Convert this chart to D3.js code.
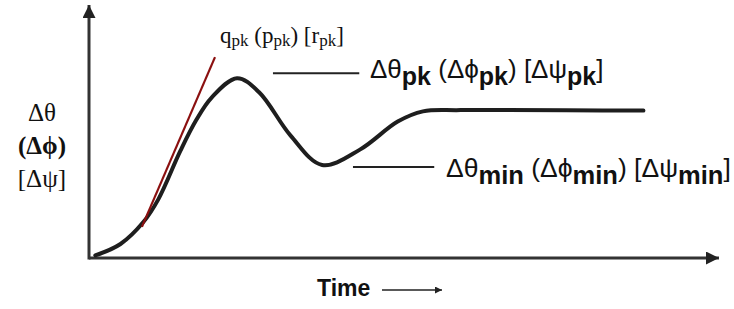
<!DOCTYPE html>
<html>
<head>
<meta charset="utf-8">
<script src="https://cdn.jsdelivr.net/npm/d3@7"></script>
<style>
  body { margin: 0; background: #fff; }
</style>
</head>
<body>
<div id="chart"></div>
<script>
const width = 734, height = 309;

// response curve (time, response)
const time = [0.1, 0.5, 0.86, 1.1, 1.45, 1.7, 1.95, 2.35, 2.7, 3.2, 3.7, 4.3, 4.9, 5.3, 5.9, 8.8];
const resp = [0.1, 0.55, 1.4, 2.3, 4.2, 5.4, 6.3, 7.05, 6.5, 4.8, 3.65, 4.25, 5.35, 5.75, 5.8, 5.78];

// tangent at the steepest rise
const tangentT = [0.84, 2.0];
const tangentV = [1.22, 7.88];

// leader lines for the peak and minimum labels
const peakT = [2.92, 4.29], peakV = 7.25;
const minT = [4.19, 5.48], minV = 3.57;

const yLabels = ["Δθ", "(Δϕ)", "[Δψ]"];

const svg = d3.select("#chart")
    .append("svg")
    .attr("width", width)
    .attr("height", height);

const x = d3.scaleLinear().domain([0, 10]).range([89, 719]);
const y = d3.scaleLinear().domain([0, 10]).range([258, 3]);

//arrow heads
const defs = svg.append("defs");
defs.append("marker")
    .attr("id", "bigArrow")
    .attr("viewBox", "0 0 10 10")
    .attr("refX", 10).attr("refY", 5)
    .attr("markerUnits", "userSpaceOnUse")
    .attr("markerWidth", 30).attr("markerHeight", 13)
    .attr("orient", "auto")
    .append("path")
    .attr("d", "M0,0 L10,5 L0,10 Z")
    .attr("fill", "#222");

defs.append("marker")
    .attr("id", "smallArrow")
    .attr("viewBox", "0 0 10 10")
    .attr("refX", 10).attr("refY", 5)
    .attr("markerUnits", "userSpaceOnUse")
    .attr("markerWidth", 16).attr("markerHeight", 7)
    .attr("orient", "auto")
    .append("path")
    .attr("d", "M0,0 L10,5 L0,10 Z")
    .attr("fill", "#222");

//axes
svg.append("line")
    .attr("x1", x(0)).attr("y1", y(0))
    .attr("x2", x(10)).attr("y2", y(0))
    .attr("stroke", "#333").attr("stroke-width", 3)
    .attr("marker-end", "url(#bigArrow)");

svg.append("line")
    .attr("x1", x(0)).attr("y1", y(0) + 1.5)
    .attr("x2", x(0)).attr("y2", y(10) + 2)
    .attr("stroke", "#333").attr("stroke-width", 3)
    .attr("marker-end", "url(#bigArrow)");

//response curve
const pts = time.map((t, i) => [t, resp[i]]);
const line = d3.line()
    .x(d => x(d[0]))
    .y(d => y(d[1]))
    .curve(d3.curveCatmullRom.alpha(0.5));

svg.append("path")
    .datum(pts)
    .attr("d", line)
    .attr("fill", "none")
    .attr("stroke", "#1e1e1e")
    .attr("stroke-width", 4)
    .attr("stroke-linecap", "round");

//tangent
svg.append("line")
    .attr("x1", x(tangentT[0])).attr("y1", y(tangentV[0]))
    .attr("x2", x(tangentT[1])).attr("y2", y(tangentV[1]))
    .attr("stroke", "#8b1010").attr("stroke-width", 2.2);

//leader lines
svg.append("line")
    .attr("x1", x(peakT[0])).attr("y1", y(peakV))
    .attr("x2", x(peakT[1])).attr("y2", y(peakV))
    .attr("stroke", "#222").attr("stroke-width", 2);

svg.append("line")
    .attr("x1", x(minT[0])).attr("y1", y(minV))
    .attr("x2", x(minT[1])).attr("y2", y(minV))
    .attr("stroke", "#222").attr("stroke-width", 2);

//y label
svg.append("g")
    .selectAll("text")
    .data(yLabels)
    .enter()
    .append("text")
    .attr("x", 42)
    .attr("y", (d, i) => 121 + i * 33)
    .attr("text-anchor", "middle")
    .attr("font-family", "Liberation Serif, serif")
    .attr("font-size", "25px")
    .attr("font-weight", (d, i) => i === 1 ? "bold" : "normal")
    .attr("fill", "#111")
    .text(d => d);

//q label (serif, small subscripts)
const q = svg.append("text")
    .attr("x", 220).attr("y", 43)
    .attr("font-family", "Liberation Serif, serif")
    .attr("font-size", "23px")
    .attr("fill", "#111");
[["q", ""], ["pk", "sub"], [" (p", ""], ["pk", "sub"], [") [r", ""], ["pk", "sub"], ["]", ""]]
    .forEach(([s, k], i, arr) => {
        const prevSub = i > 0 && arr[i - 1][1] === "sub";
        q.append("tspan")
            .attr("font-size", k ? "17px" : null)
            .attr("dy", k ? 3 : (prevSub ? -3 : 0))
            .text(s);
    });

//sans labels with bold subscripts
function subLabel(x0, y0, sub, size) {
    const t = svg.append("text")
        .attr("x", x0).attr("y", y0)
        .attr("font-family", "Liberation Sans, sans-serif")
        .attr("font-size", size + "px")
        .attr("fill", "#111");
    const parts = ["Δθ", " (Δϕ", ") [Δψ", "]"];
    parts.forEach((p, i) => {
        t.append("tspan").attr("dy", i === 0 ? 0 : -7).text(p);
        if (i < parts.length - 1) {
            t.append("tspan")
                .attr("dy", 7)
                .attr("font-weight", "bold")
                .attr("font-size", (size - 1) + "px")
                .text(sub);
        }
    });
}
subLabel(370, 78, "pk", 26);
subLabel(446, 177, "min", 26.5);

//time label
svg.append("text")
    .attr("x", 317).attr("y", 296)
    .attr("font-family", "Liberation Sans, sans-serif")
    .attr("font-size", "23px")
    .attr("font-weight", "bold")
    .attr("fill", "#111")
    .text("Time");

svg.append("line")
    .attr("x1", 382).attr("y1", 290)
    .attr("x2", 442).attr("y2", 290)
    .attr("stroke", "#222").attr("stroke-width", 1.5)
    .attr("marker-end", "url(#smallArrow)");
</script>
</body>
</html>
